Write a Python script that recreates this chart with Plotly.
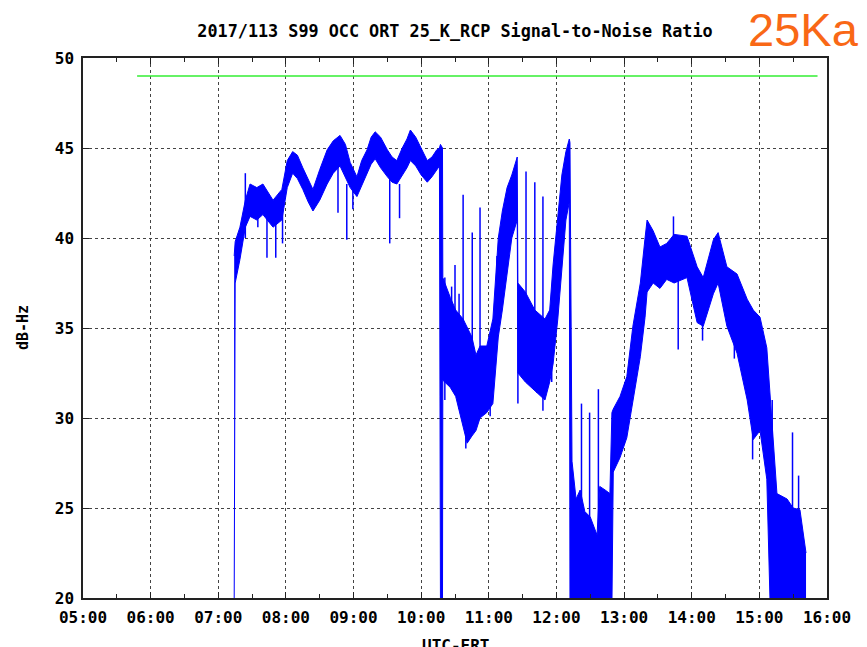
import plotly.graph_objects as go

# hours UTC (decimal), band envelope of the noisy SNR trace in dB-Hz
snr_time = [
    7.235, 7.25, 7.32, 7.40, 7.47, 7.57, 7.66, 7.81, 7.94, 8.02,
    8.10, 8.17, 8.25, 8.33, 8.40, 8.50, 8.61, 8.70, 8.80, 8.88,
    8.95, 9.05, 9.12, 9.20, 9.26, 9.32, 9.40, 9.50, 9.57, 9.64,
    9.72, 9.79, 9.84, 9.92, 10.00, 10.09, 10.16, 10.23, 10.27,
    10.285, 10.315, 10.32, 10.43, 10.51, 10.62, 10.68, 10.75, 10.81, 10.87,
    10.97, 11.06, 11.14, 11.20, 11.27, 11.34, 11.42, 11.43, 11.54, 11.68, 11.83,
    11.90, 11.95, 12.02, 12.08, 12.14, 12.19, 12.20, 12.23, 12.29, 12.35, 12.42,
    12.50, 12.60, 12.64, 12.72, 12.79, 12.82, 12.84, 12.94, 13.04, 13.13, 13.24,
    13.31, 13.34, 13.43, 13.53, 13.63, 13.74, 13.93, 14.08, 14.17, 14.32, 14.39,
    14.52, 14.67, 14.82, 14.91, 15.01, 15.11, 15.16, 15.26, 15.41, 15.50, 15.60,
    15.69,
]
snr_upper = [
    39.0, 39.8, 40.6, 42.1, 43.0, 42.8, 43.0, 42.1, 42.7, 44.3,
    44.8, 44.6, 43.9, 43.3, 42.7, 43.8, 44.9, 45.4, 45.7, 45.2,
    44.2, 43.4, 44.3, 44.9, 45.6, 45.9, 45.6, 44.9, 44.5, 44.3,
    45.0, 45.5, 46.0, 45.6, 45.0, 44.3, 44.5, 44.9, 45.0,
    45.2, 45.0, 37.8, 36.7, 36.0, 35.5, 35.0, 34.5, 33.5, 34.0,
    34.0, 35.5, 40.0, 41.5, 42.8, 43.5, 44.5, 37.5, 37.0, 36.0, 35.5,
    36.0, 38.5, 41.0, 43.5, 44.8, 45.5, 45.3, 27.6, 25.5, 26.0, 24.8,
    24.5, 23.5, 26.2, 26.0, 25.8, 30.3, 30.5, 31.2, 32.3, 35.1, 37.5,
    40.0, 41.0, 40.4, 39.5, 39.7, 40.2, 40.1, 38.4, 37.8, 39.9, 40.3,
    38.4, 38.0, 36.6, 36.0, 35.6, 33.9, 31.0, 25.8, 25.5, 25.0, 24.9,
    22.5,
]
snr_lower = [
    19.5, 37.5, 38.8, 40.6, 41.2, 41.0, 41.3, 40.6, 41.0, 42.8,
    43.6, 43.3, 42.7, 42.0, 41.5, 42.1, 43.0, 43.6, 44.0, 43.4,
    42.8, 42.3, 42.9, 43.6, 44.1, 44.4, 43.9, 43.4, 43.1, 43.0,
    43.5, 43.9, 44.3, 44.0, 43.5, 43.1, 43.4, 43.8, 44.0,
    19.5, 19.5, 32.1, 31.7, 31.2, 29.5, 28.6, 29.0, 29.3, 30.0,
    30.3, 30.8, 34.5, 36.0, 38.0, 40.0, 41.0, 32.5, 32.0, 31.5, 31.0,
    32.0, 33.0, 35.5, 38.5, 41.0, 42.0, 19.5, 19.5, 19.5, 19.5, 19.5,
    19.5, 19.5, 19.5, 19.5, 19.5, 19.5, 27.0, 27.8, 28.9, 31.0, 33.4,
    35.6, 37.0, 37.5, 37.2, 37.7, 37.5, 37.8, 35.3, 35.1, 36.9, 37.5,
    35.1, 33.6, 31.0, 28.8, 29.3, 26.6, 19.5, 19.5, 19.5, 19.5, 19.5,
    19.5,
]

# isolated spikes outside the band
spike_time = [7.40, 7.585, 7.72, 7.85, 7.95, 8.77, 8.90, 8.99, 9.535, 9.68,
              10.35, 10.45, 10.50, 10.56, 10.62, 10.66, 10.70, 10.755, 10.87,
              11.02, 11.12, 11.21, 11.43, 11.55, 11.56, 11.68, 11.71, 11.80,
              11.87, 11.93,
              12.37, 12.49, 12.62, 13.73, 13.80, 14.16, 14.63, 14.90, 15.19,
              15.49, 15.58]
spike_low = [40.0, 40.6, 38.9, 38.9, 39.7, 41.4, 39.9, 41.6, 39.7, 41.1,
             31.0, 31.7, 33.0, 30.5, 33.0, 28.3, 28.8, 33.0, 33.0,
             30.1, 35.4, 37.9, 30.8, 34.0, 32.8, 34.0, 31.4, 30.4,
             31.8, 32.0,
             24.0, 24.0, 24.0, 38.0, 33.8, 34.3, 33.3, 27.7, 25.0,
             25.0, 24.0]
spike_high = [43.6, 41.5, 41.5, 41.0, 41.5, 44.0, 43.0, 43.0, 44.0, 43.0,
              37.8, 37.3, 38.5, 36.9, 42.4, 32.0, 32.5, 40.3, 41.7,
              33.0, 39.0, 41.0, 37.0, 43.7, 35.0, 43.1, 34.0, 42.3,
              34.5, 36.0,
              30.8, 30.3, 31.6, 41.2, 38.0, 36.5, 36.0, 31.0, 31.0,
              29.2, 26.8]

ref_time = [5.80, 15.86]
ref_level = [49.0, 49.0]

hour_ticks = list(range(5, 17))
hour_labels = [f"{h:02d}:00" for h in hour_ticks]

BLUE = "#0000ff"
MONO = "DejaVu Sans Mono, monospace"

spike_x, spike_y = [], []
for t, lo, hi in zip(spike_time, spike_low, spike_high):
    spike_x += [t, t, None]
    spike_y += [lo, hi, None]

fig = go.Figure()
fig.add_trace(go.Scatter(x=ref_time, y=ref_level, mode="lines",
                         line=dict(color="#33ee33", width=1.5), hoverinfo="skip"))
fig.add_trace(go.Scatter(x=snr_time, y=snr_lower, mode="lines",
                         line=dict(color=BLUE, width=1)))
fig.add_trace(go.Scatter(x=snr_time, y=snr_upper, mode="lines",
                         line=dict(color=BLUE, width=1),
                         fill="tonexty", fillcolor=BLUE))
fig.add_trace(go.Scatter(x=spike_x, y=spike_y, mode="lines",
                         line=dict(color=BLUE, width=1.5)))

axis_common = dict(
    showline=True, linecolor="#222", linewidth=1.5, mirror="ticks",
    ticks="inside", tickcolor="#222", ticklen=6,
    showgrid=True, gridcolor="#444", gridwidth=1, griddash="dot",
    zeroline=False,
    tickfont=dict(family=MONO, size=16, color="black", weight="bold"),
)

# page body adds 8px around the figure, so the figure is 8px smaller than the window
fig.update_layout(
    width=859, height=639,
    paper_bgcolor="white", plot_bgcolor="white",
    margin=dict(l=75, r=40, t=50, b=49),
    showlegend=False,
    title=dict(text="2017/113 S99 OCC ORT 25_K_RCP Signal-to-Noise Ratio",
               x=0.5, xref="paper", y=1 - 23 / 639, yref="container", yanchor="middle",
               font=dict(family=MONO, size=16.8, color="black", weight="bold")),
    xaxis=dict(axis_common, range=[5, 16], tickvals=hour_ticks, ticktext=hour_labels,
               ticklabelstandoff=4,
               minor=dict(dtick=0.5, tick0=5, ticks="inside", ticklen=4,
                          tickcolor="#222", showgrid=False)),
    yaxis=dict(axis_common, range=[20, 50], dtick=5, tick0=20, ticklabelstandoff=4),
    annotations=[
        dict(text="dB-Hz", xref="paper", yref="paper", x=-0.0806, y=0.5,
             textangle=-90, showarrow=False, xanchor="center", yanchor="middle",
             font=dict(family=MONO, size=15, color="black", weight="bold")),
        dict(text="UTC-ERT", xref="paper", yref="paper", x=0.5, y=-0.066,
             showarrow=False, xanchor="center", yanchor="top",
             font=dict(family=MONO, size=16, color="black", weight="bold")),
        dict(text="25Ka", xref="paper", yref="paper", x=1.046, y=1.052,
             showarrow=False, xanchor="right", yanchor="middle",
             font=dict(family="Liberation Sans, Arial, sans-serif", size=47,
                       color="#f96816")),
    ],
)

fig.write_html("out.html")
